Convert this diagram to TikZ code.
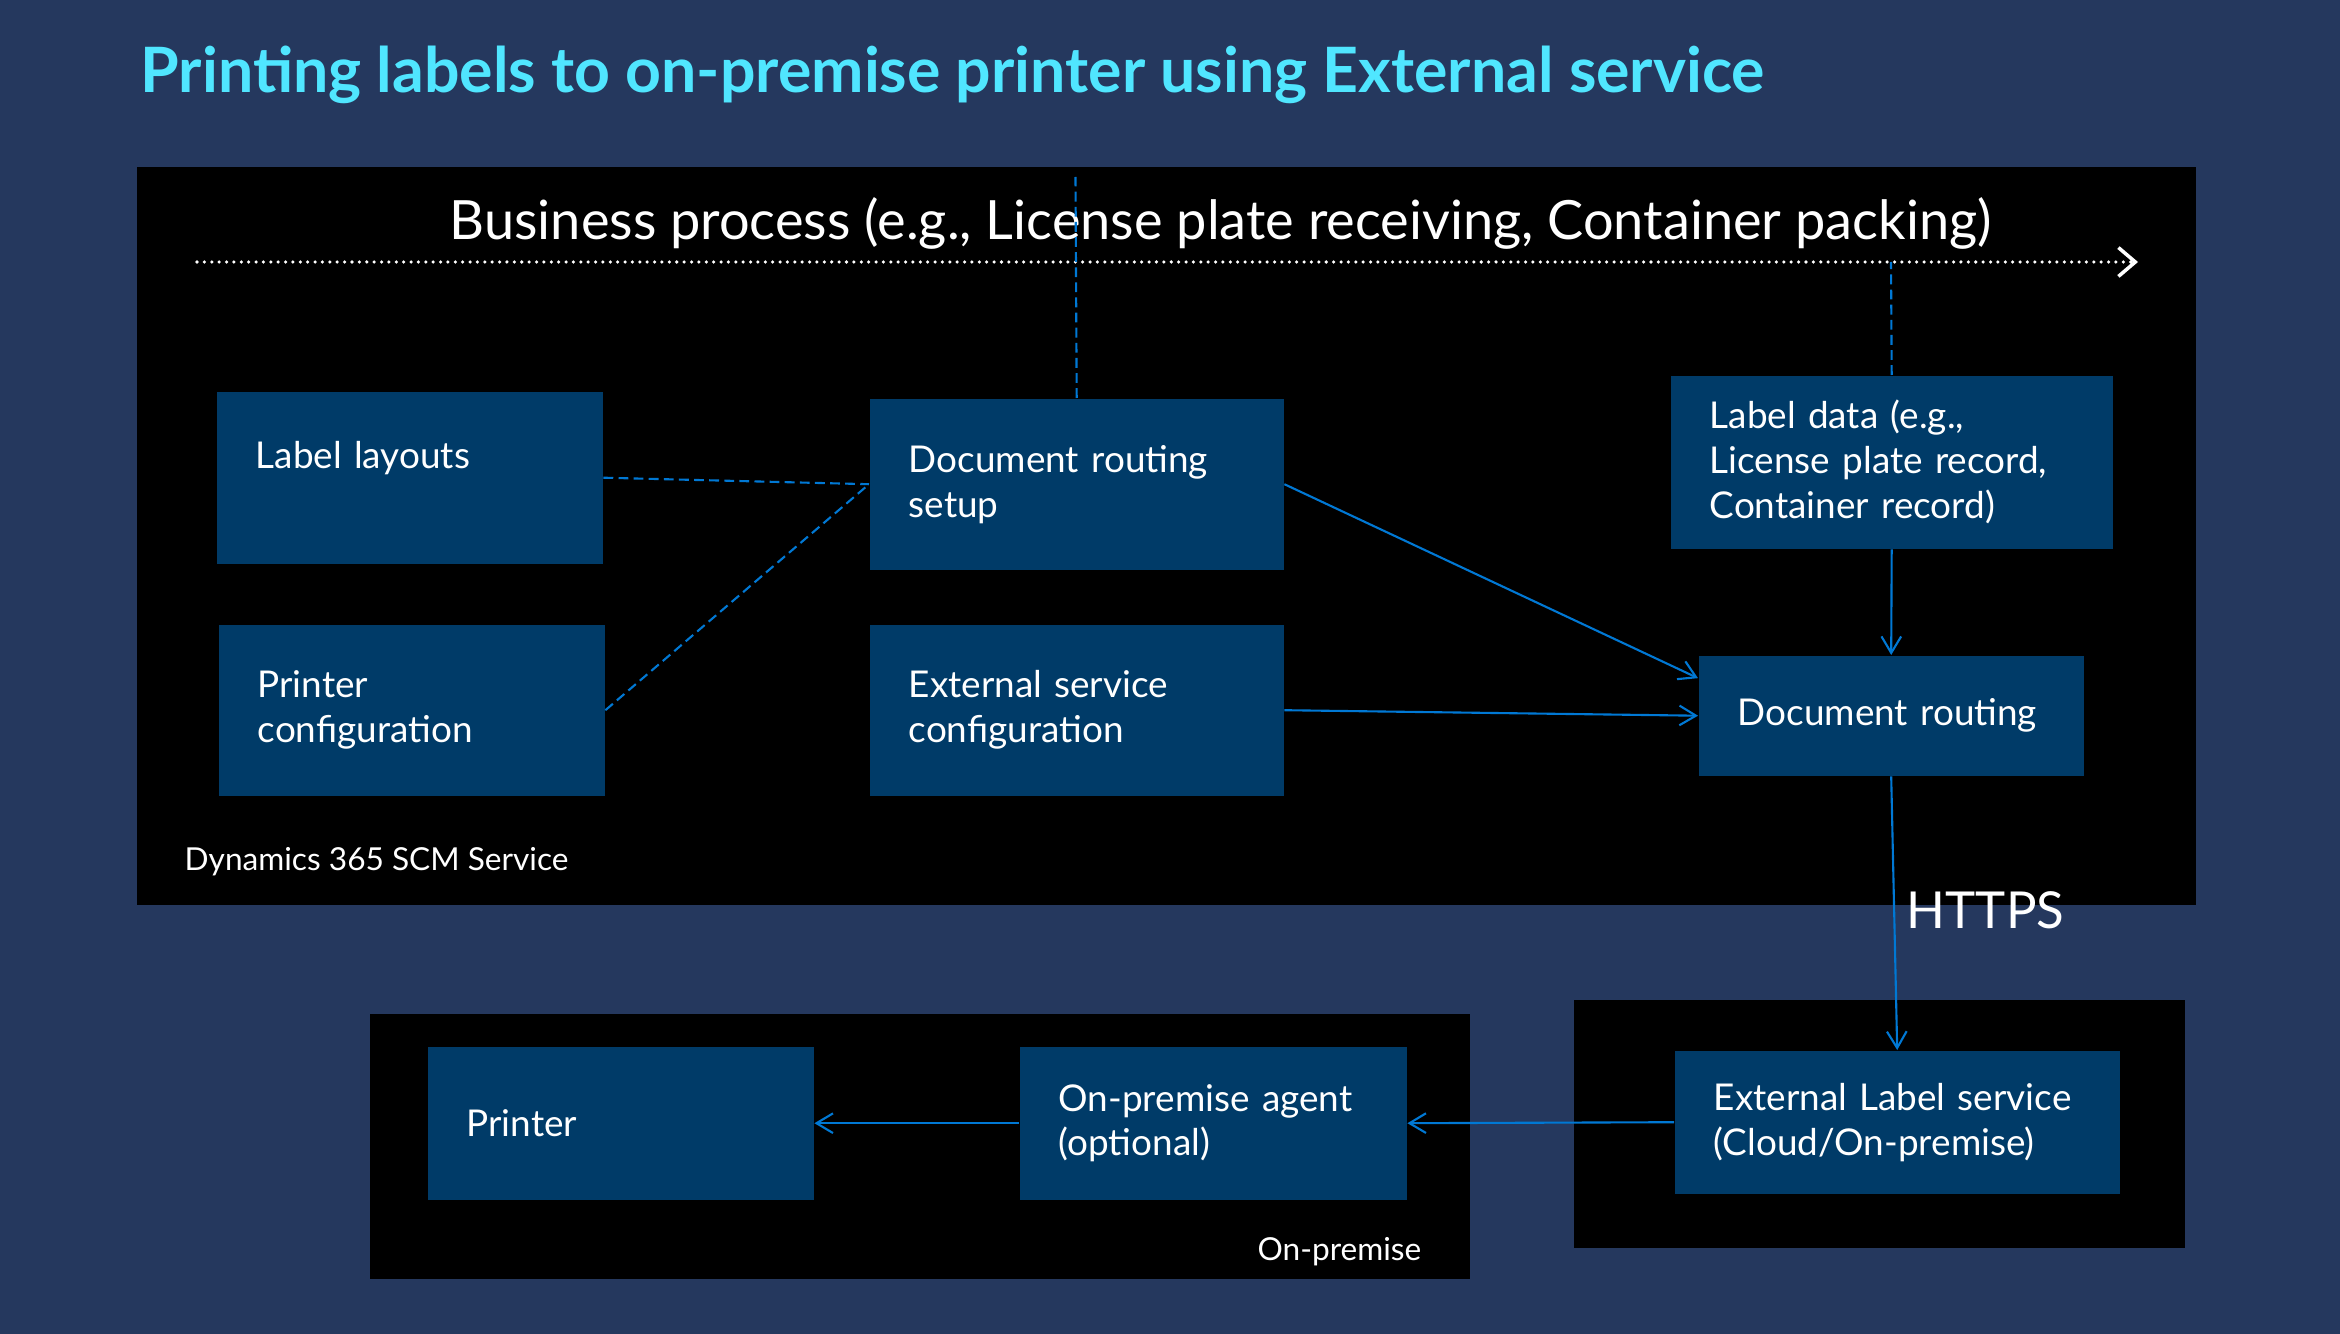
\documentclass[tikz,border=0pt]{standalone}
\usepackage{fontspec}
\setmainfont{Lato}
\usetikzlibrary{arrows.meta}
\hyphenpenalty=10000

\definecolor{pagebg}{RGB}{37,56,94}
\definecolor{boxblue}{RGB}{0,59,104}
\definecolor{lineblue}{RGB}{0,120,212}
\definecolor{titlecyan}{RGB}{80,230,255}

\tikzset{
  blk/.style={fill=boxblue, text=white, align=left, anchor=north west, inner xsep=0.39cm, inner ysep=0pt,
    font=\fontsize{10.5}{12.8}\selectfont},
  lnk/.style={draw=lineblue, line width=0.6pt, -{Straight Barb[length=4.7pt,width=5.6pt]}},
  dsh/.style={draw=lineblue, line width=0.6pt, dash pattern=on 2.8pt off 1.5pt},
}

\begin{document}
\begin{tikzpicture}
\useasboundingbox (0,0) rectangle (23.40,-13.34);
\fill[pagebg] (0,0) rectangle (23.40,-13.34);%background

\node[anchor=base west, text=titlecyan, font=\fontsize{17.8}{21}\selectfont\bfseries, inner sep=0pt] (title) at (1.40,-0.93) {Printing labels to on-premise printer using External service};

\fill[black] (1.37,-1.67) rectangle (21.96,-9.05);%SCM service
\fill[black] (15.74,-10.00) rectangle (21.85,-12.48);%external label service
\fill[black] (3.70,-10.14) rectangle (14.70,-12.79);%on-premise

\node[anchor=base west, text=white, font=\fontsize{15.4}{18}\selectfont, inner sep=0pt] (bp) at (4.49,-2.40) {Business process (e.g., License plate receiving, Container packing)};
\coordinate (bpstart) at (1.97,-2.62);
\coordinate (bpend) at (21.38,-2.62);
\draw[white, line width=1pt, line cap=round, dash pattern=on 0pt off 2.1pt,
  -{Straight Barb[length=4.8pt,width=8.2pt,line width=1pt]}] (bpstart) -- (bpend);

\node[blk, text width=3.08cm, minimum height=1.72cm] (lay) at (2.16,-3.91) {Label layouts\\~};
\node[blk, text width=3.08cm, minimum height=1.71cm] (pcfg) at (2.18,-6.24) {Printer\\configuration};
\node[blk, text width=3.36cm, minimum height=1.71cm] (drs) at (8.69,-3.98) {Document routing\\setup};
\node[blk, text width=3.36cm, minimum height=1.71cm] (esc) at (8.69,-6.24) {External service\\configuration};
\node[blk, text width=3.64cm, minimum height=1.73cm] (ldat) at (16.70,-3.75) {Label data (e.g.,\\License plate record,\\Container record)};
\node[blk, text width=3.07cm, minimum height=1.20cm] (drt) at (16.98,-6.55) {Document routing};
\node[blk, text width=3.67cm, minimum height=1.43cm] (els) at (16.74,-10.50) {External Label service\\(Cloud/On-premise)};
\node[blk, text width=3.08cm, minimum height=1.53cm] (prn) at (4.27,-10.46) {Printer};
\node[blk, text width=3.09cm, minimum height=1.53cm] (agt) at (10.19,-10.46) {On-premise agent\\(optional)};

\node[anchor=base west, text=white, font=\fontsize{9}{11}\selectfont, inner sep=0pt] (scm) at (1.84,-8.70) {Dynamics 365 SCM Service};
\node[anchor=base east, text=white, font=\fontsize{9}{11}\selectfont, inner sep=0pt] (onp) at (14.22,-12.60) {On-premise};

\coordinate (tick1) at (10.755,-1.77);
\coordinate (tick2) at (18.91,-2.62);
\draw[dsh] (drs.north) -- (tick1);
\draw[dsh] (ldat.north) -- (tick2);
\draw[dsh] (lay.east) -- (drs.west);
\draw[dsh] (pcfg.east) -- (drs.west);

\draw[lnk] (drs.east) -- (drt.169);
\draw[lnk] (esc.east) -- (drt.west);
\draw[lnk] (ldat.south) -- (drt.north);
\draw[lnk] (drt.south) -- (els.north) node[pos=0.49, right=0cm, text=white, font=\fontsize{14.5}{17}\selectfont] (https) {HTTPS};
\draw[lnk] (els.west) -- (agt.east);
\draw[lnk] (agt.west) -- (prn.east);

\end{tikzpicture}
\end{document}
